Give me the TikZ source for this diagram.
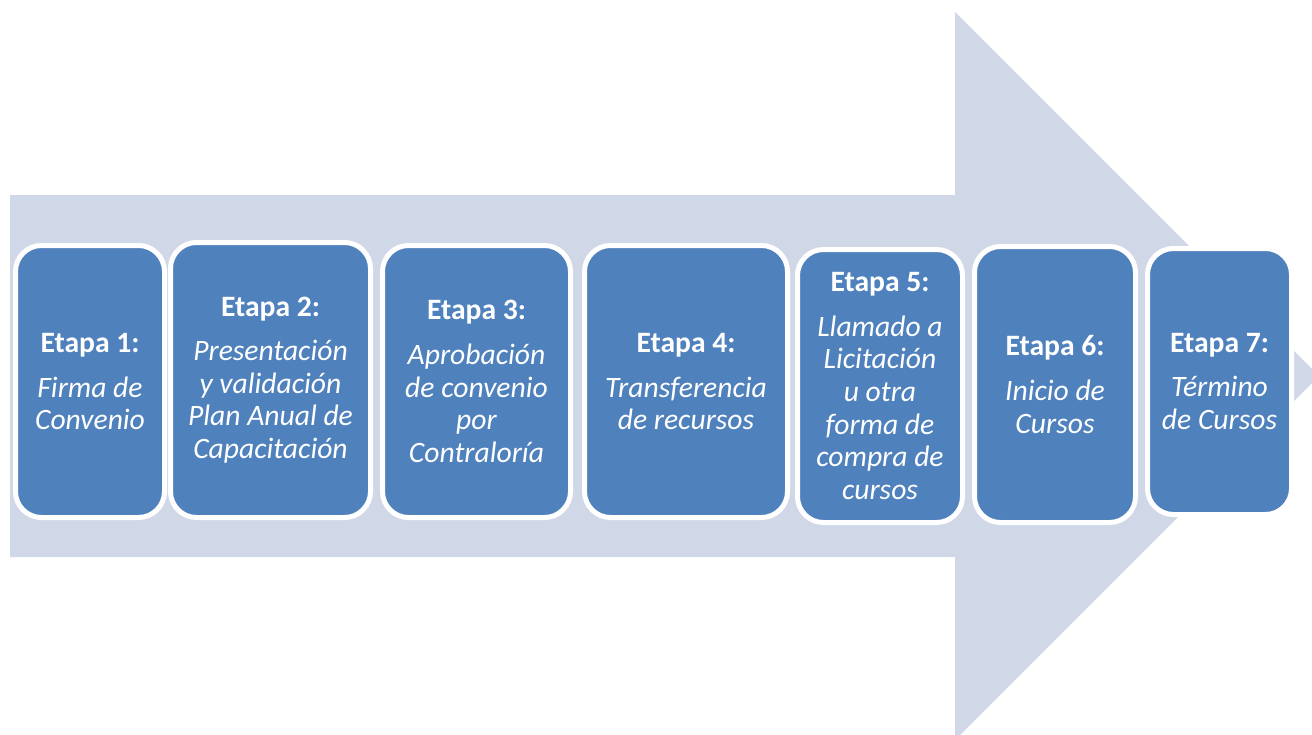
\documentclass[tikz,border=0pt]{standalone}
\usepackage{fontspec}
\setmainfont{Carlito}

\definecolor{etapablue}{HTML}{4F81BD}
\definecolor{arrowgrey}{HTML}{D0D8E8}

\tikzset{
    every etapa/.style={draw=white, line width=2.5pt, fill=etapablue,
        rounded corners=13pt, text=white, align=center, inner sep=0pt,
        font=\fontsize{14.8}{16.3}\selectfont\itshape}
}

\begin{document}
\begin{tikzpicture}[x=0.5pt, y=-0.5pt]

\useasboundingbox (0,0) rectangle (1312,734);
\clip (0,0) rectangle (1312,734);

% big arrow behind the steps
\fill [arrowgrey] (10,195) -- (955,195) -- (955,12) -- (1319,376)
    -- (955,740) -- (955,557) -- (10,557) -- cycle;

\foreach \n/\cx/\cy/\w/\h/\txt in {
    1/90/381.5/154/277/Firma de\\Convenio,
    2/270.5/380/205/280/Presentación\\y validación\\Plan Anual de\\Capacitación,
    3/476.5/381.5/193/277/Aprobación\\de convenio\\por\\Contraloría,
    4/686/381.5/208/277/Transferencia\\de recursos,
    5/880/386/170/278/Llamado a\\Licitación\\u otra\\forma de\\compra de\\cursos,
    6/1055/384.5/166/281/Inicio de\\Cursos,
    7/1219.5/381.5/149/271/Término\\de Cursos}
    \node [every etapa/.try, minimum width=\w*0.5pt-2.5pt,
        minimum height=\h*0.5pt-2.5pt] (etapa-\n) at (\cx, \cy)
        {\textup{\textbf{Etapa \n:}}\\[6pt]\txt};

\end{tikzpicture}
\end{document}
